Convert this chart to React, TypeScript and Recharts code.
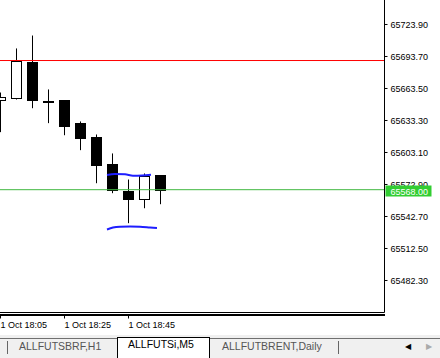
import React from "react";
import { ComposedChart, Bar, Line, XAxis, YAxis, ReferenceLine } from "recharts";

// ---- data ----
const times = ["18:05", "18:10", "18:15", "18:20", "18:25", "18:30", "18:35", "18:40", "18:45", "18:50", "18:55"];
const opens = [65653.1, 65654.3, 65688.3, 65651.6, 65652.2, 65630.5, 65617.3, 65592.7, 65566.3, 65559.4, 65581.4];
const highs = [65659.7, 65701.3, 65713.5, 65662.6, 65652.2, 65632.4, 65620.1, 65602.2, 65577.6, 65583.3, 65581.4];
const lows = [65622.3, 65653.1, 65644.9, 65630.8, 65619.4, 65605.3, 65574.1, 65564.7, 65536.4, 65550.5, 65554.3];
const closes = [65655.7, 65689.0, 65652.5, 65650.8, 65627.9, 65617.0, 65591.1, 65567.9, 65559.0, 65580.7, 65568.0];

const xTickIdx = [0, 4, 8];
const xTickLabels = ["1 Oct 18:05", "1 Oct 18:25", "1 Oct 18:45"];
const yTicks = [65482.3, 65512.5, 65542.7, 65572.9, 65603.1, 65633.3, 65663.5, 65693.7, 65723.9];

const redLevel = 65689.9;
const currentPrice = 65568.0;

// hand-drawn blue lines (x in bar index units, y in price)
const blue1X = [6.656, 7.156, 7.781, 8.281, 8.844, 9.406];
const blue1P = [65581.9, 65582.8, 65582.5, 65581.2, 65581.4, 65582.1];
const blue2X = [6.656, 7.031, 7.469, 8.094, 8.719, 9.344, 9.781];
const blue2P = [65530.4, 65532.3, 65533.1, 65533.3, 65533.0, 65532.3, 65531.8];

const tabs = ["ALLFUTSBRF,H1", "ALLFUTSi,M5", "ALLFUTBRENT,Daily"];

const candles = times.map((t, i) => ({
  i,
  t,
  open: opens[i],
  high: highs[i],
  low: lows[i],
  close: closes[i],
  range: [lows[i], highs[i]],
}));
const blue1 = blue1X.map((x, k) => ({ i: x, p: blue1P[k] }));
const blue2 = blue2X.map((x, k) => ({ i: x, p: blue2P[k] }));

const FONT = "Arial, 'Liberation Sans', sans-serif";
const Y_DOMAIN = [65452.1, 65747.02];
// price tag is appended last so it is painted above the regular price labels
const axisTicks = [...yTicks, currentPrice];

const Candle = (props: any) => {
  const { x, y, width, height, payload } = props;
  if (!payload) return null;
  const top = Math.min(y, y + height);
  const h = Math.abs(height);
  const { open, high, low, close } = payload;
  const k = high - low > 0 ? h / (high - low) : 0;
  const py = (p: number) => top + (high - p) * k;
  const cx = Math.round(x + width / 2 - 0.5) + 0.5;
  const yo = py(open);
  const yc = py(close);
  const bt = Math.round(Math.min(yo, yc));
  const bb = Math.round(Math.max(yo, yc));
  const bull = close > open;
  return (
    <g>
      <line x1={cx} x2={cx} y1={top} y2={top + h} stroke="#000" strokeWidth={1} />
      {bull ? (
        <rect x={cx - 5} y={bt + 0.5} width={10} height={Math.max(bb - bt, 1)} fill="#fff" stroke="#000" strokeWidth={1} />
      ) : (
        <rect x={cx - 5.5} y={bt} width={11} height={Math.max(bb - bt + 1, 2)} fill="#000" />
      )}
    </g>
  );
};

const XTick = (props: any) => {
  const { x, y, payload } = props;
  const idx = xTickIdx.indexOf(payload.value);
  return (
    <g>
      <line x1={x} x2={x} y1={y + 2} y2={y + 6} stroke="#000" />
      <text x={x} y={y + 15} fontSize={9} fontFamily={FONT} fill="#000" textAnchor="start">
        {idx >= 0 ? xTickLabels[idx] : ""}
      </text>
    </g>
  );
};

const YTick = (props: any) => {
  const { x, y, payload } = props;
  if (payload.value === currentPrice) {
    const cy = Math.round(y);
    return (
      <g>
        <rect x={x + 1} y={cy - 4.5} width={46} height={11} fill="#32cd32" />
        <text x={x + 6} y={cy + 4.5} fontSize={9} fontFamily={FONT} fill="#fff" textAnchor="start">
          {Number(payload.value).toFixed(2)}
        </text>
      </g>
    );
  }
  return (
    <g>
      <line x1={x} x2={x + 3} y1={y} y2={y} stroke="#000" />
      <text x={x + 6} y={y + 3.3} fontSize={9} fontFamily={FONT} fill="#000" textAnchor="start">
        {Number(payload.value).toFixed(2)}
      </text>
    </g>
  );
};

export default function App() {
  return (
    <div style={{ position: "fixed", left: 0, top: 0, width: 440, height: 358, background: "#fff", overflow: "hidden", fontFamily: FONT }}>
      <ComposedChart
        width={440}
        height={336}
        data={candles}
        margin={{ top: 0, right: 0, bottom: 0, left: 0 }}
        barSize={11}
      >
        <XAxis
          dataKey="i"
          type="number"
          domain={[-0.03125, 24.0]}
          allowDataOverflow
          ticks={xTickIdx}
          interval={0}
          height={23.5}
          tickSize={0}
          tickMargin={0}
          tickLine={false}
          axisLine={{ stroke: "#000" }}
          tick={<XTick />}
        />
        <YAxis
          orientation="right"
          type="number"
          domain={Y_DOMAIN}
          allowDataOverflow
          ticks={axisTicks}
          interval={0}
          width={55.5}
          tickSize={0}
          tickMargin={0}
          tickLine={false}
          axisLine={{ stroke: "#000" }}
          tick={<YTick />}
        />
        <ReferenceLine y={redLevel} stroke="#ff0000" strokeWidth={1} ifOverflow="hidden" />
        <ReferenceLine y={currentPrice} stroke="#40b840" strokeWidth={1} />
        <Bar dataKey="range" shape={<Candle />} isAnimationActive={false} />
        <Line data={blue1} dataKey="p" type="monotone" stroke="#1e1eff" strokeWidth={2} dot={false} activeDot={false} isAnimationActive={false} />
        <Line data={blue2} dataKey="p" type="monotone" stroke="#1e1eff" strokeWidth={2} dot={false} activeDot={false} isAnimationActive={false} />
      </ComposedChart>
      {/* thick bottom frame line */}
      <div style={{ position: "absolute", left: 0, top: 314, width: 385, height: 2, background: "#000" }} />
      {/* tab bar */}
      <div style={{ position: "absolute", left: 0, top: 335, width: 440, height: 23, background: "#f0f0f0" }} />
      <div style={{ position: "absolute", left: 0, top: 338, width: 440, height: 1, background: "#707070" }} />
      <div style={{ position: "absolute", left: 117, top: 337, width: 91, height: 21, background: "#fff", border: "1px solid #000", borderBottom: "none" }} />
      <div style={{ position: "absolute", left: 7, top: 341, width: 1, height: 13, background: "#666" }} />
      <div style={{ position: "absolute", left: 338, top: 341, width: 1, height: 13, background: "#666" }} />
      <div style={{ position: "absolute", left: 19, top: 340, fontSize: 10.5, color: "#555", whiteSpace: "nowrap", lineHeight: "13px" }}>{tabs[0]}</div>
      <div style={{ position: "absolute", left: 128, top: 338, fontSize: 10.5, color: "#000", whiteSpace: "nowrap", lineHeight: "13px" }}>{tabs[1]}</div>
      <div style={{ position: "absolute", left: 222, top: 340, fontSize: 10.5, color: "#555", whiteSpace: "nowrap", lineHeight: "13px" }}>{tabs[2]}</div>
      <div style={{ position: "absolute", left: 405, top: 341, fontSize: 8, color: "#000", lineHeight: "12px" }}>◀</div>
      <div style={{ position: "absolute", left: 426, top: 341, fontSize: 8, color: "#aaa", lineHeight: "12px" }}>▶</div>
    </div>
  );
}
